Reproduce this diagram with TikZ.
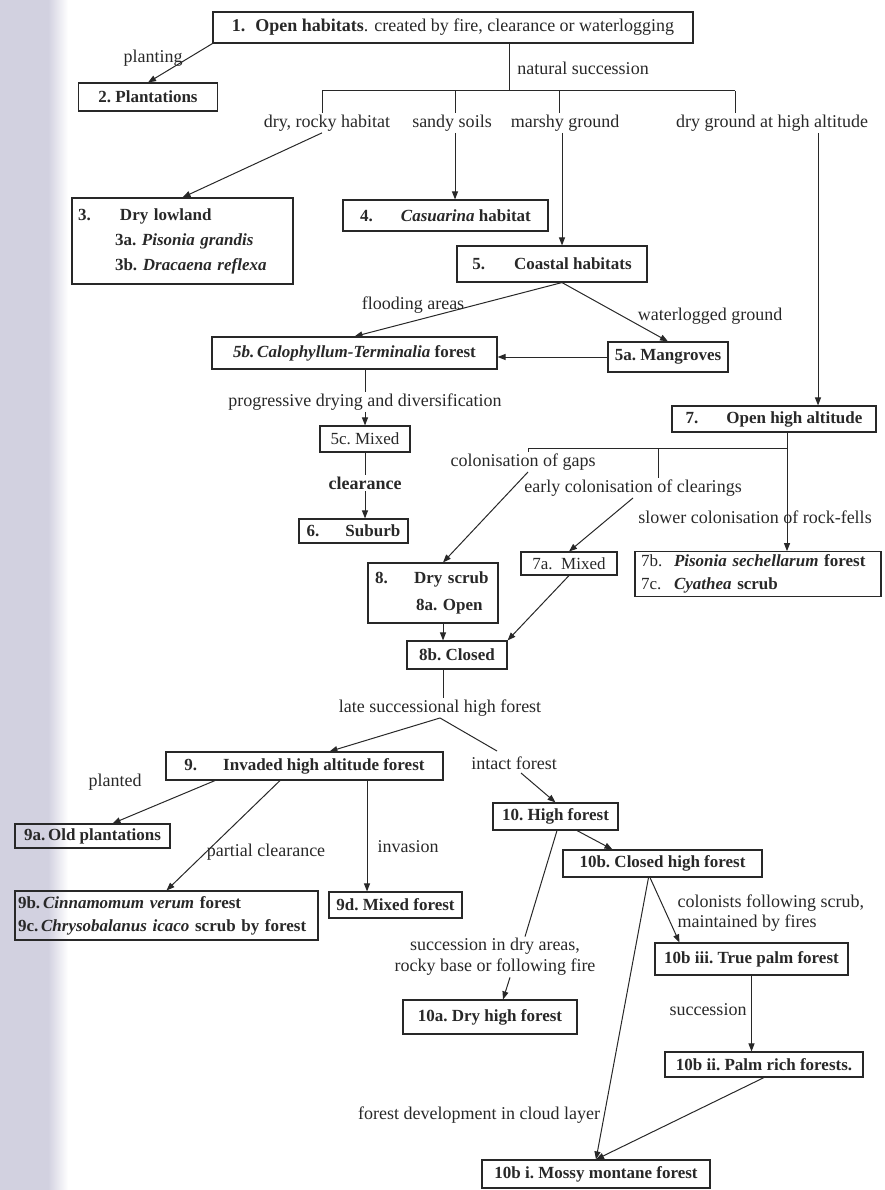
\documentclass[tikz,border=0pt]{standalone}
\usepackage{fontspec}
\setmainfont{Liberation Serif}
\usetikzlibrary{arrows.meta,calc}
\definecolor{scan}{RGB}{210,209,224}
\definecolor{ink}{RGB}{40,40,40}
\begin{document}
\begin{tikzpicture}[x=1pt,y=-1pt,
  box/.style={draw=ink, line width=1.1pt, inner sep=3pt, text=ink,
    font=\fontsize{17}{22}\selectfont\bfseries},
  lab/.style={inner sep=1.5pt, text=ink, font=\fontsize{18}{21}\selectfont},
  ln/.style={draw=ink, line width=1pt},
  arr/.style={draw=ink, line width=1pt, -{Triangle[length=8pt,width=6pt]}}]
\useasboundingbox (0,0) rectangle (884,1190);
\fill[scan] (0,0) rectangle (48,1190);
\shade[left color=scan, right color=white] (48,0) rectangle (68,1190);

% ---------- boxes ----------
\node[box, font=\fontsize{18}{22}\selectfont, minimum width=480pt, minimum height=31pt] (b1) at (453,27.5)
  {\textbf{1.\hspace{10pt}Open habitats}. created by fire, clearance or waterlogging};
\node[box, minimum width=139pt, minimum height=28pt] (b2) at (148,97) {2.\ Plantations};
\node[box, minimum height=86pt, text width=209pt, inner xsep=6pt, align=left,
  font=\fontsize{17}{25}\selectfont\bfseries] (b3) at (182.5,241)
  {\makebox[42pt][l]{3.}Dry lowland\\
   \hspace*{37pt}3a.\ \textit{Pisonia grandis}\\
   \hspace*{37pt}3b.\ \textit{Dracaena reflexa}};
\node[box, minimum width=205pt, minimum height=31pt] (b4) at (445.5,215.5)
  {4.\hspace{28pt}\textit{Casuarina} habitat};
\node[box, minimum width=190pt, minimum height=36pt] (b5) at (552,264)
  {5.\hspace{29pt}Coastal habitats};
\node[box, minimum width=285pt, minimum height=32pt] (b5b) at (354.5,353)
  {\textit{5b.\,Calophyllum-Terminalia} forest};
\node[box, minimum width=120pt, minimum height=30pt] (b5a) at (668,357) {5a.\ Mangroves};
\node[box, font=\fontsize{17}{22}\selectfont, minimum width=90pt, minimum height=26pt] (b5c) at (365,439) {5c.\ Mixed};
\node[box, minimum width=109pt, minimum height=24pt] (b6) at (353.5,531) {6.\hspace{26pt}Suburb};
\node[box, minimum width=204pt, minimum height=26pt] (b7) at (774,419) {7.\hspace{28pt}Open high altitude};
\node[box, font=\fontsize{17}{22}\selectfont, minimum width=96pt, minimum height=23pt] (b7a) at (569,563.5) {7a.\ \ Mixed};
\node[box, minimum height=44pt, text width=234pt, inner xsep=6pt, align=left,
  font=\fontsize{17}{23}\selectfont] (b7b) at (758,574)
  {\makebox[33pt][l]{7b.}\textbf{\textit{Pisonia sechellarum} forest}\\
   \makebox[33pt][l]{7c.}\textbf{\textit{Cyathea} scrub}};
\node[box, minimum height=60pt, text width=124pt, inner xsep=3pt, align=left,
  font=\fontsize{17}{27}\selectfont\bfseries] (b8) at (433,593)
  {\makebox[43pt][l]{\hspace*{4pt}8.}\mbox{Dry scrub}\\ \hspace*{45pt}8a.\ Open};
\node[box, minimum width=100pt, minimum height=28pt] (b8b) at (457,655) {8b.\ Closed};
\node[box, minimum width=277pt, minimum height=28pt] (b9) at (304.5,766)
  {9.\hspace{26pt}Invaded high altitude forest};
\node[box, minimum width=155pt, minimum height=24pt] (b9a) at (92.5,836) {9a.\,Old plantations};
\node[box, minimum height=49pt, text width=297pt, inner xsep=3pt, align=left,
  font=\fontsize{17}{23}\selectfont\bfseries] (b9b) at (166.5,915.5)
  {9b.\,\textit{Cinnamomum verum} forest\\ 9c.\,\textit{Chrysobalanus icaco} scrub by forest};
\node[box, minimum width=133pt, minimum height=26pt] (b9d) at (395.5,905) {9d.\ Mixed forest};
\node[box, minimum width=125pt, minimum height=27pt] (b10) at (555.5,816.5) {10.\ High forest};
\node[box, minimum width=199pt, minimum height=27pt] (b10b) at (662.5,863.5) {10b.\ Closed high forest};
\node[box, minimum width=174pt, minimum height=34pt] (b10a) at (490,1017) {10a.\ Dry high forest};
\node[box, minimum width=193pt, minimum height=32pt] (b10b3) at (751.5,959) {10b iii.\ True palm forest};
\node[box, minimum width=198pt, minimum height=25pt] (b10b2) at (764,1064.5) {10b ii.\ Palm rich forests.};
\node[box, minimum width=228pt, minimum height=28pt] (b10b1) at (596,1174) {10b i.\ Mossy montane forest};

% ---------- labels ----------
\node[lab] (lplant) at (153,58) {planting};
\node[lab] (lnat) at (583,68) {natural succession};
\node[lab] (lrocky) at (327,123) {dry, rocky habitat};
\node[lab] (lsandy) at (452,123) {sandy soils};
\node[lab] (lmarsh) at (565,123) {marshy ground};
\node[lab] (lhigh) at (772,123) {dry ground at high altitude};
\node[lab] (lflood) at (413,305) {flooding areas};
\node[lab] (lwater) at (710,316) {waterlogged ground};
\node[lab] (lprog) at (365,402) {progressive drying and diversification};
\node[lab, font=\fontsize{18}{21}\selectfont\bfseries] (lclear) at (365,483) {clearance};
\node[lab] (lgaps) at (523,462) {colonisation of gaps};
\node[lab] (learly) at (633,488) {early colonisation of clearings};
\node[lab] (lslow) at (755,517) {slower colonisation of rock-fells};
\node[lab] (llate) at (440,708) {late successional high forest};
\node[lab] (lplanted) at (115,782) {planted};
\node[lab] (lintact) at (514,763) {intact forest};
\node[lab] (lpartial) at (266,852) {partial clearance};
\node[lab] (linv) at (408,847) {invasion};
\node[lab, align=center, font=\fontsize{18}{21}\selectfont] (l10a) at (495,957)
  {succession in dry areas,\\ rocky base or following fire};
\node[lab, anchor=west, align=left, font=\fontsize{18}{20}\selectfont] (lcol) at (676,913)
  {colonists following scrub,\\ maintained by fires};
\node[lab] (lsucc) at (708,1010) {succession};
\node[lab] (lcloud) at (479,1115) {forest development in cloud layer};

% ---------- connectors ----------
\draw[arr] (b1.south west) -- (b2.north);
\coordinate (t0) at (509,91);
\coordinate (t1) at (322,91);
\coordinate (t2) at (455,91);
\coordinate (t3) at (559,91);
\coordinate (t4) at (735,91);
\draw[ln] (t0 |- b1.south) -- (t0);
\draw[ln] (t1) -- (t4);
\draw[ln] (t1) -- (t1 |- lrocky.north);
\draw[ln] (t2) -- (t2 |- lsandy.north);
\draw[ln] (t3) -- (t3 |- lmarsh.north);
\draw[ln] (t4) -- (t4 |- lhigh.north);
\draw[arr] (t1 |- lrocky.south) -- (b3.north);
\draw[arr] (t2 |- lsandy.south) -- (t2 |- b4.north);
\coordinate (c5) at (562,0);
\draw[arr] (c5 |- lmarsh.south) -- (c5 |- b5.north);
\coordinate (c7) at (818,0);
\draw[arr] (c7 |- lhigh.south) -- (c7 |- b7.north);
\draw[arr] (c5 |- b5.south) -- (b5b.north);
\draw[arr] (c5 |- b5.south) -- (b5a.north);
\draw[arr] (b5a.west) -- (b5a.west -| b5b.east);
\draw[ln] (lprog.north |- b5b.south) -- (lprog.north);
\draw[arr] (lprog.south) -- (lprog.south |- b5c.north);
\draw[ln] (lclear.north |- b5c.south) -- (lclear.north);
\draw[arr] (lclear.south) -- (lclear.south |- b6.north);

\coordinate (s0) at (787,448);
\coordinate (s1) at (528,448);
\coordinate (s2) at (658,448);
\draw[arr] (s0 |- b7.south) -- (s0 |- b7b.north);
\draw[ln] (s1) -- (s0);
\draw[ln] (s1) -- (s1 |- lgaps.north);
\draw[ln] (s2) -- (s2 |- learly.north);
\draw[arr] (s1 |- lgaps.south) -- ($(b8.north)+(10,0)$);
\draw[arr] (learly.south) -- (b7a.north);
\draw[arr] (b7a.south) -- (b8b.north east);
\coordinate (c8) at (443,0);
\draw[arr] (c8 |- b8.south) -- (c8 |- b8b.north);
\draw[ln] (c8 |- b8b.south) -- (c8 |- llate.north);
\draw[arr] (llate.south) -- ($(b9.north)+(25,0)$);
\coordinate (i1) at (497,751);
\coordinate (i2) at (521,773);
\draw[ln] (llate.south) -- (i1);
\draw[arr] (i2) -- (b10.north);

\coordinate (c9a) at (215,0);
\coordinate (c9b) at (280,0);
\coordinate (c9d) at (367,0);
\draw[arr] (c9a |- b9.south) -- ($(b9a.north)+(20,0)$);
\draw[arr] (c9b |- b9.south) -- (b9b.north);
\draw[arr] (c9d |- b9.south) -- (c9d |- b9d.north);

\coordinate (c10b) at (577,0);
\coordinate (c10a) at (557,0);
\coordinate (c10x) at (525,0);
\coordinate (c10y) at (510,0);
\draw[arr] (c10b |- b10.south) -- ($(b10b.north west)+(50,0)$);
\draw[ln] (c10a |- b10.south) -- (c10x |- l10a.north);
\draw[arr] (c10y |- l10a.south) -- ($(b10a.north)+(13,0)$);

\coordinate (c10bb) at (650,0);
\draw[arr] (c10bb |- b10b.south) -- ($(b10b3.north west)+(25,0)$);
\draw[arr] ($(b10b.south)+(-14,0)$) -- (b10b1.north);
\draw[arr] (b10b3.south) -- (b10b3.south |- b10b2.north);
\draw[arr] (b10b2.south) -- (b10b1.north);
\end{tikzpicture}
\end{document}
